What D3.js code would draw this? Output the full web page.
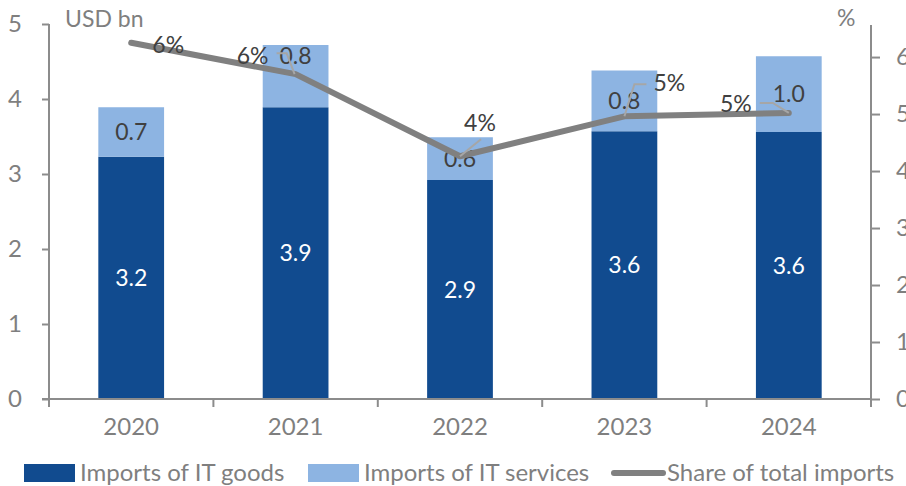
<!DOCTYPE html>
<html>
  <head>
    <meta charset="UTF-8">
    <script type="text/javascript" src="https://d3js.org/d3.v7.min.js"></script>
    <style type="text/css">
      body { margin: 0; background: white; }
      text { font-family: Lato, "Open Sans", sans-serif; }
    </style>
  </head>
<body>
<script type="text/javascript">
var svgWidth = 906;
var svgHeight = 486;

// data
var years = ['2020', '2021', '2022', '2023', '2024'];
var itGoods = [3.23, 3.89, 2.92, 3.57, 3.56];
var itServices = [0.66, 0.83, 0.57, 0.81, 1.01];
var goodsLabels = ['3.2', '3.9', '2.9', '3.6', '3.6'];
var servicesLabels = ['0.7', '0.8', '0.6', '0.8', '1.0'];
var shareOfImports = [6.25, 5.70, 4.26, 4.96, 5.02];
var shareLabels = ['6%', '6%', '4%', '5%', '5%'];
var leftTicks = [0, 1, 2, 3, 4, 5];
var rightTicks = [0, 1, 2, 3, 4, 5, 6];
var legendNames = ['Imports of IT goods', 'Imports of IT services', 'Share of total imports'];

// where each share label sits relative to its point, plus a leader path
var labelOffsets = [
  {dx: 37, dy: 2, leader: null},
  {dx: -43, dy: -18, leader: [[-19, -21], [-9, -21], [-1, 0]]},
  {dx: 20, dy: -33, leader: [[0, 0], [21, -17]]},
  {dx: 45, dy: -33, leader: [[0, 0], [10, -32], [22, -32]]},
  {dx: -53, dy: -9, leader: [[-29, -10], [-16, -10], [0, 0]]}
];
// the 2021 services label was dragged up in the original
var servicesLabelShift = [0, -20, 0, 0, 0];

var darkBlue = '#114b8f';
var lightBlue = '#8db4e2';
var lineGrey = '#808080';
var axisGrey = '#8c8c8c';
var tickText = '#7f7f7f';
var labelText = '#404040';

var margin = {top: 24, right: 35, bottom: 87, left: 49}
  , width = svgWidth - margin.left - margin.right
  , height = svgHeight - margin.top - margin.bottom;

var svg = d3.select('body').append('svg')
  .attr('width', svgWidth)
  .attr('height', svgHeight);

var g = svg.append('g')
  .attr('transform', 'translate(' + margin.left + ',' + margin.top + ')');

var xScale = d3.scaleBand()
  .domain(years)
  .range([0, width])
  .paddingInner(0.6)
  .paddingOuter(0.3);

var yLeft = d3.scaleLinear().domain([0, 5]).range([height, 0]);
var yRight = d3.scaleLinear().domain([0, 6.58]).range([height, 0]);

// stacked bars
var rows = years.map(function(y, i) {
  return {year: y, goods: itGoods[i], services: itServices[i]};
});
var stacked = d3.stack().keys(['goods', 'services'])(rows);
var fills = [darkBlue, lightBlue];

g.selectAll('.series')
  .data(stacked)
  .enter()
  .append('g')
  .attr('fill', function(d, i) { return fills[i]; })
  .selectAll('rect')
  .data(function(d) { return d; })
  .enter()
  .append('rect')
  .attr('x', function(d) { return xScale(d.data.year); })
  .attr('y', function(d) { return yLeft(d[1]); })
  .attr('width', xScale.bandwidth())
  .attr('height', function(d) { return yLeft(d[0]) - yLeft(d[1]); });

// bar labels
g.selectAll('.goods-label')
  .data(stacked[0])
  .enter()
  .append('text')
  .attr('x', function(d) { return xScale(d.data.year) + xScale.bandwidth() / 2; })
  .attr('y', function(d) { return (yLeft(d[0]) + yLeft(d[1])) / 2; })
  .attr('dy', '0.35em')
  .attr('text-anchor', 'middle')
  .attr('fill', 'white')
  .style('font-size', '23px')
  .text(function(d, i) { return goodsLabels[i]; });

g.selectAll('.services-label')
  .data(stacked[1])
  .enter()
  .append('text')
  .attr('x', function(d) { return xScale(d.data.year) + xScale.bandwidth() / 2; })
  .attr('y', function(d, i) { return (yLeft(d[0]) + yLeft(d[1])) / 2 + servicesLabelShift[i]; })
  .attr('dy', '0.35em')
  .attr('text-anchor', 'middle')
  .attr('fill', labelText)
  .style('font-size', '23px')
  .text(function(d, i) { return servicesLabels[i]; });

// axes
var xAxisG = g.append('g')
  .attr('transform', 'translate(0,' + height + ')');
xAxisG.append('line')
  .attr('x1', -7).attr('x2', width)
  .attr('stroke', axisGrey).attr('stroke-width', 2);
var boundaries = d3.range(years.length + 1).map(function(i) { return i * xScale.step(); });
xAxisG.selectAll('.cat-tick')
  .data(boundaries)
  .enter()
  .append('line')
  .attr('x1', function(d) { return d; })
  .attr('x2', function(d) { return d; })
  .attr('y1', 0).attr('y2', 8)
  .attr('stroke', axisGrey).attr('stroke-width', 2);
xAxisG.selectAll('.year')
  .data(years)
  .enter()
  .append('text')
  .attr('x', function(d) { return xScale(d) + xScale.bandwidth() / 2; })
  .attr('y', 36)
  .attr('text-anchor', 'middle')
  .attr('fill', tickText)
  .style('font-size', '24px')
  .text(function(d) { return d; });

var leftAxis = d3.axisLeft(yLeft).tickValues(leftTicks).tickFormat(d3.format('d'))
  .tickSize(7).tickPadding(20);
var gLeft = g.append('g').call(leftAxis);
gLeft.select('.domain').remove();
gLeft.append('line')
  .attr('y1', 0).attr('y2', height)
  .attr('stroke', axisGrey).attr('stroke-width', 2);
gLeft.selectAll('.tick line').attr('stroke', axisGrey).attr('stroke-width', 2);
gLeft.selectAll('.tick text')
  .attr('fill', tickText)
  .style('font-size', '24px')
  .style('font-family', 'Lato, sans-serif');

var rightAxis = d3.axisRight(yRight).tickValues(rightTicks).tickFormat(d3.format('d'))
  .tickSize(9).tickPadding(16);
var gRight = g.append('g')
  .attr('transform', 'translate(' + width + ',0)')
  .call(rightAxis);
gRight.select('.domain').remove();
gRight.append('line')
  .attr('y1', 1).attr('y2', height + 8)
  .attr('stroke', axisGrey).attr('stroke-width', 2);
gRight.selectAll('.tick line').attr('stroke', axisGrey).attr('stroke-width', 2);
gRight.selectAll('.tick text')
  .attr('fill', tickText)
  .style('font-size', '24px')
  .style('font-family', 'Lato, sans-serif');

// axis titles
svg.append('text')
  .attr('x', 65).attr('y', 27)
  .attr('fill', tickText)
  .style('font-size', '23px')
  .text('USD bn');
svg.append('text')
  .attr('x', 837).attr('y', 26)
  .attr('fill', tickText)
  .style('font-size', '23px')
  .text('%');

// share line
var lineGen = d3.line()
  .x(function(d, i) { return xScale(years[i]) + xScale.bandwidth() / 2; })
  .y(function(d) { return yRight(d); });

g.append('path')
  .datum(shareOfImports)
  .attr('d', lineGen)
  .attr('fill', 'none')
  .attr('stroke', lineGrey)
  .attr('stroke-width', 6)
  .attr('stroke-linecap', 'round')
  .attr('stroke-linejoin', 'round');

// share labels and leaders
shareOfImports.forEach(function(v, i) {
  var px = xScale(years[i]) + xScale.bandwidth() / 2;
  var py = yRight(v);
  var off = labelOffsets[i];
  if (off.leader) {
    g.append('polyline')
      .attr('points', off.leader.map(function(p) { return (px + p[0]) + ',' + (py + p[1]); }).join(' '))
      .attr('fill', 'none')
      .attr('stroke', '#a6a6a6')
      .attr('stroke-width', 2);
  }
  g.append('text')
    .attr('x', px + off.dx)
    .attr('y', py + off.dy)
    .attr('dy', '0.35em')
    .attr('text-anchor', 'middle')
    .attr('fill', labelText)
    .style('font-size', '23px')
    .text(shareLabels[i]);
});

// legend
var legendX = [24, 308, 611];
var legend = svg.append('g').attr('transform', 'translate(0,473)');
legendNames.forEach(function(name, i) {
  if (i < 2) {
    legend.append('rect')
      .attr('x', legendX[i]).attr('y', -9)
      .attr('width', 51).attr('height', 18)
      .attr('fill', fills[i]);
  } else {
    legend.append('line')
      .attr('x1', legendX[i] + 3).attr('x2', legendX[i] + 52)
      .attr('y1', 0).attr('y2', 0)
      .attr('stroke', lineGrey)
      .attr('stroke-width', 6)
      .attr('stroke-linecap', 'round');
  }
  legend.append('text')
    .attr('x', legendX[i] + 56)
    .attr('y', 0)
    .attr('dy', '0.35em')
    .attr('fill', tickText)
    .style('font-size', '24px')
    .text(name);
});
</script>
</body>
</html>
